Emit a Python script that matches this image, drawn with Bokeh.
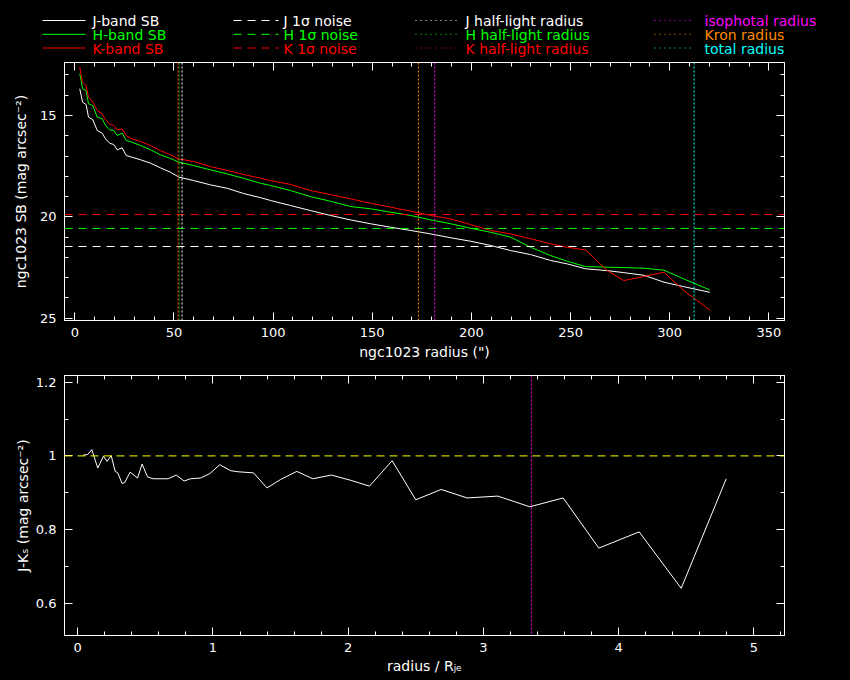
from bokeh.plotting import figure
from bokeh.models import Range1d, Span, LinearAxis, SingleIntervalTicker, FixedTicker, ColumnDataSource
from bokeh.layouts import column
from bokeh.embed import file_html
from bokeh.resources import INLINE
from bokeh.core.properties import value

FONT = "DejaVu Sans"

# ---------------- data ----------------
radius = [2.5, 3.2, 3.9, 5.7, 6.9, 9.1, 11.3, 13.8, 15.5, 17.6, 19.6, 21.4, 23.9, 25.9,
          28.9, 33.1, 38.2, 43.2, 48.3, 52.5, 60.0, 68.4, 76.9, 85.2, 93.6, 98.7, 108.8,
          118.9, 129.0, 139.1, 149.2, 159.3, 169.4, 179.5, 189.6, 199.6, 209.7, 219.8,
          229.9, 240.0, 248.4, 257.6, 268.5, 276.9, 287.0, 297.1, 307.1, 320.2]
sb_j = [13.68, 14.01, 14.34, 14.46, 15.08, 15.21, 15.74, 15.87, 16.15, 16.37, 16.43, 16.69,
        16.59, 16.97, 17.06, 17.18, 17.35, 17.58, 17.80, 18.04, 18.21, 18.42, 18.59, 18.85,
        19.05, 19.19, 19.44, 19.69, 19.93, 20.15, 20.34, 20.51, 20.67, 20.84, 21.03, 21.20,
        21.41, 21.66, 21.86, 22.15, 22.32, 22.56, 22.65, 22.75, 22.88, 23.22, 23.44, 23.72]
sb_h = [12.94, 13.27, 13.68, 13.77, 14.42, 14.51, 15.08, 15.16, 15.49, 15.71, 15.74, 15.99,
        15.87, 16.23, 16.32, 16.48, 16.69, 16.94, 17.12, 17.30, 17.47, 17.68, 17.88, 18.10,
        18.34, 18.45, 18.70, 19.00, 19.23, 19.49, 19.60, 19.77, 19.93, 20.15, 20.34, 20.56,
        20.76, 21.00, 21.50, 21.91, 22.19, 22.45, 22.48, 22.50, 22.53, 22.63, 23.06, 23.60]
sb_k = [12.62, 13.03, 13.36, 13.52, 14.10, 14.34, 14.75, 14.92, 15.21, 15.41, 15.49, 15.71,
        15.66, 15.99, 16.15, 16.28, 16.48, 16.73, 16.94, 17.14, 17.27, 17.52, 17.71, 17.91,
        18.09, 18.21, 18.40, 18.70, 18.90, 19.11, 19.33, 19.52, 19.72, 19.93, 20.10, 20.38,
        20.67, 20.84, 21.08, 21.33, 21.50, 21.63, 22.65, 23.14, 22.94, 22.73, 23.63, 24.59]

noise_j = 21.46
noise_h = 20.57
noise_k = 19.88

half_light_j = 54.1
half_light_h = 52.5
half_light_k = 52.0
iso_radius = 181.5
kron_radius = 173.3
total_radius = 312.3

color_x = [0.04, 0.074, 0.104, 0.148, 0.19, 0.217, 0.247, 0.277, 0.296, 0.328, 0.348, 0.387,
           0.442, 0.476, 0.516, 0.557, 0.617, 0.669, 0.728, 0.787, 0.834, 0.908, 0.977, 1.05,
           1.13, 1.184, 1.30, 1.40, 1.50, 1.62, 1.738, 1.876, 2.017, 2.158, 2.325, 2.50, 2.688,
           2.88, 3.107, 3.343, 3.59, 3.854, 4.152, 4.463, 4.796]
color_jk = [1.002, 1.004, 1.017, 0.967, 0.999, 0.985, 1.001, 0.958, 0.954, 0.925, 0.928, 0.956,
            0.940, 0.978, 0.943, 0.938, 0.938, 0.938, 0.948, 0.932, 0.938, 0.940, 0.952, 0.976,
            0.960, 0.957, 0.954, 0.913, 0.936, 0.958, 0.938, 0.948, 0.934, 0.918, 0.987, 0.881,
            0.909, 0.886, 0.891, 0.862, 0.886, 0.750, 0.794, 0.641, 0.938]
color_ref = 1.0

legend_labels = [
    ["J-band SB", "H-band SB", "K-band SB"],
    ["J 1σ noise", "H 1σ noise", "K 1σ noise"],
    ["J half-light radius", "H half-light radius", "K half-light radius"],
    ["isophotal radius", "Kron radius", "total radius"],
]

WHITE, GREEN, RED = "#ffffff", "#00ff00", "#ff0000"
MAGENTA, ORANGE, CYAN, YELLOW = "#ff00ff", "#ff8c00", "#00ffff", "#ffff00"
legend_colors = [
    [WHITE, GREEN, RED],
    [WHITE, GREEN, RED],
    [WHITE, GREEN, RED],
    [MAGENTA, ORANGE, CYAN],
]
legend_dash = ["solid", "8 6", "1 4", "1 4"]

W = 850


def style(p):
    p.background_fill_color = "black"
    p.border_fill_color = "black"
    p.outline_line_color = "white"
    p.grid.visible = False


def style_axis(ax, show_labels=True):
    ax.axis_line_color = "white"
    ax.major_tick_line_color = "white"
    ax.minor_tick_line_color = "white"
    ax.major_tick_in = 8
    ax.major_tick_out = 0
    ax.minor_tick_in = 4
    ax.minor_tick_out = 0
    ax.major_label_text_font = FONT
    ax.axis_label_text_color = "white"
    ax.axis_label_text_font = FONT
    ax.axis_label_text_font_style = "normal"
    ax.axis_label_text_font_size = "14px"
    if show_labels:
        ax.major_label_text_color = "white"
        ax.major_label_text_font_size = "13px"
    else:
        ax.major_label_text_color = None
        ax.major_label_text_font_size = "1px"
        ax.major_label_standoff = 0


# ---------------- legend strip ----------------
LH = 58
leg = figure(width=W, height=LH, x_range=Range1d(0, W), y_range=Range1d(LH, 0),
             x_axis_location=None, y_axis_location=None, toolbar_location=None,
             output_backend="svg", min_border=0)
leg.background_fill_color = "black"
leg.border_fill_color = "black"
leg.outline_line_color = None
leg.grid.visible = False

col_x0 = [42, 233, 415, 654]
col_len = [43, 45, 42, 40]
col_gap = [7, 5, 8, 10]
row_y = [20.7, 34.5, 48.2]
for c in range(4):
    xs0, xs1, ys, tx, ty, cols, txt = [], [], [], [], [], [], []
    for r in range(3):
        xs0.append(col_x0[c])
        xs1.append(col_x0[c] + col_len[c])
        ys.append(row_y[r] - 0.7)
        tx.append(col_x0[c] + col_len[c] + col_gap[c])
        ty.append(row_y[r])
        cols.append(legend_colors[c][r])
        txt.append(legend_labels[c][r])
    src = ColumnDataSource(dict(x0=xs0, x1=xs1, y=ys, tx=tx, ty=ty, c=cols, t=txt))
    leg.segment(x0="x0", y0="y", x1="x1", y1="y", source=src, line_color="c",
                line_width=1, line_dash=legend_dash[c])
    leg.text(x="tx", y="ty", text="t", source=src, text_color="c",
             text_font=value(FONT), text_font_size="14px", text_baseline="alphabetic")

# ---------------- top panel: surface brightness ----------------
p1 = figure(width=W, height=307, x_range=Range1d(-5.2, 357.9), y_range=Range1d(25.11, 12.385),
            toolbar_location=None, output_backend="svg",
            min_border_left=64, min_border_right=66, min_border_top=4, min_border_bottom=45)
style(p1)
p1.line(radius, sb_j, line_color=WHITE, line_width=1)
p1.line(radius, sb_h, line_color=GREEN, line_width=1)
p1.line(radius, sb_k, line_color=RED, line_width=1)

for lvl, col in [(noise_j, WHITE), (noise_h, GREEN), (noise_k, RED)]:
    p1.add_layout(Span(location=lvl, dimension="width", line_color=col,
                       line_dash="8 6", line_width=1))
for loc, col in [(half_light_j, WHITE), (half_light_h, GREEN), (half_light_k, RED),
                 (iso_radius, MAGENTA), (kron_radius, ORANGE), (total_radius, CYAN)]:
    p1.add_layout(Span(location=loc, dimension="height", line_color=col,
                       line_dash="2 2", line_width=1))

p1.xaxis.ticker = SingleIntervalTicker(interval=50, num_minor_ticks=5)
p1.yaxis.ticker = SingleIntervalTicker(interval=5, num_minor_ticks=5)
p1.xaxis.axis_label = "ngc1023 radius (\")"
p1.yaxis.axis_label = "ngc1023 SB (mag arcsec⁻²)"
for ax in p1.axis:
    style_axis(ax)
p1.xaxis.major_label_standoff = 7
p1.yaxis.major_label_standoff = 8
p1.xaxis.axis_label_standoff = 4
p1.yaxis.axis_label_standoff = 8
top_ax = LinearAxis(ticker=SingleIntervalTicker(interval=50, num_minor_ticks=5))
right_ax = LinearAxis(ticker=SingleIntervalTicker(interval=5, num_minor_ticks=5))
style_axis(top_ax, False)
style_axis(right_ax, False)
p1.add_layout(top_ax, "above")
p1.add_layout(right_ax, "right")

# ---------------- bottom panel: J-K colour ----------------
p2 = figure(width=W, height=315, x_range=Range1d(-0.098, 5.227), y_range=Range1d(0.513, 1.218),
            toolbar_location=None, output_backend="svg",
            min_border_left=64, min_border_right=66, min_border_top=10, min_border_bottom=45)
style(p2)
p2.add_layout(Span(location=color_ref, dimension="width", line_color=YELLOW,
                   line_dash="8 5", line_width=1))
p2.add_layout(Span(location=iso_radius / half_light_j, dimension="height", line_color=MAGENTA,
                   line_dash="2 2", line_width=1))
p2.line(color_x, color_jk, line_color=WHITE, line_width=1)

yt = [0.6, 0.8, 1.0, 1.2]
ymt = [0.5, 0.6, 0.7, 0.8, 0.9, 1.0, 1.1, 1.2]
p2.xaxis.ticker = SingleIntervalTicker(interval=1, num_minor_ticks=5)
p2.yaxis.ticker = FixedTicker(ticks=yt, minor_ticks=ymt)
p2.yaxis.major_label_overrides = {0.6: "0.6", 0.8: "0.8", 1.0: "1", 1.2: "1.2"}
p2.xaxis.axis_label = "radius / Rⱼₑ"
p2.yaxis.axis_label = "J-Kₛ (mag arcsec⁻²)"
for ax in p2.axis:
    style_axis(ax)
p2.xaxis.major_label_standoff = 7
p2.yaxis.major_label_standoff = 8
p2.xaxis.axis_label_standoff = 3
p2.yaxis.axis_label_standoff = 2
top_ax2 = LinearAxis(ticker=SingleIntervalTicker(interval=1, num_minor_ticks=5))
right_ax2 = LinearAxis(ticker=FixedTicker(ticks=yt, minor_ticks=ymt))
style_axis(top_ax2, False)
style_axis(right_ax2, False)
p2.add_layout(top_ax2, "above")
p2.add_layout(right_ax2, "right")

panels = column(p1, p2, spacing=0)

html = file_html([leg, panels], INLINE, title="ngc1023 profile")
css = "<style>html, body { background-color: #000000 !important; }</style>"
if "</head>" in html:
    html = html.replace("</head>", css + "</head>", 1)
else:
    html = css + html
open("out.html", "w").write(html)
